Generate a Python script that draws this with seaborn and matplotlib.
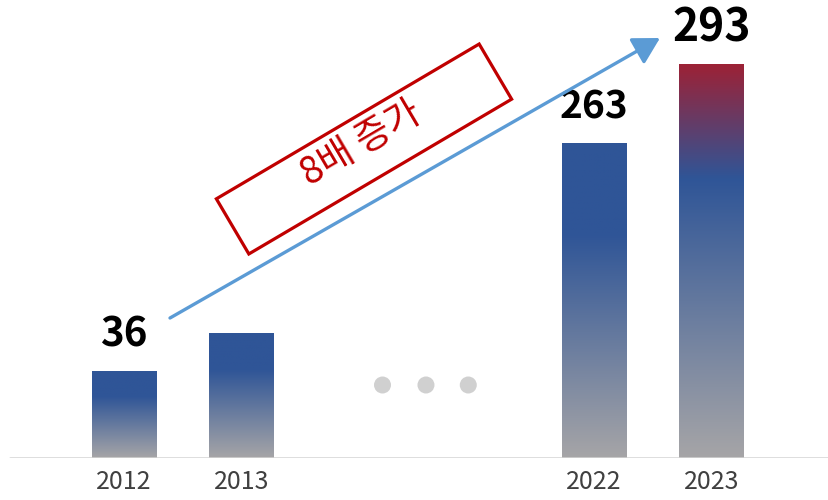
import numpy as np
import pandas as pd
import matplotlib
matplotlib.use("Agg")
import matplotlib.pyplot as plt
import matplotlib.transforms as mtransforms
from matplotlib.patches import Rectangle
from matplotlib.colors import LinearSegmentedColormap
import seaborn as sns

# ---- data ----
years = ["2012", "2013", "2022", "2023"]
bar_heights = [87, 125, 315, 394]          # drawn bar heights (chart is not to scale)
value_labels = ["36", "", "263", "293"]     # printed values
label_sizes = [29, 29, 28, 32]
slot = [0, 1, 4, 5]                          # category slots (gap for the ellipsis)
ellipsis_x = [2.2, 2.57, 2.93]
ellipsis_y = [73, 73, 73]
annotation_text = "8배 증가"

sns.set_theme(style="white")
plt.rcParams["font.family"] = ["Noto Sans CJK KR", "DejaVu Sans"]

W, H = 829, 500
fig = plt.figure(figsize=(W / 100, H / 100), dpi=100)
ax = fig.add_axes([0, 42 / H, 1, 458 / H])

df = pd.DataFrame({"slot": slot, "height": bar_heights, "year": years})
sns.barplot(data=df, x="slot", y="height", native_scale=True, width=0.545,
            color="#2F5597", ax=ax, errorbar=None)

xlim = (-124 / 117.5, (W - 124) / 117.5)
ylim = (0, 458)

blue = "#2F5597"
gray = "#A6A5A7"
red = "#9C2236"
cm_blue = LinearSegmentedColormap.from_list("b", [(0, gray), (0.71, blue), (1, blue)])
cm_red = LinearSegmentedColormap.from_list("r", [(0, gray), (0.71, blue), (1, red)])
grad = np.linspace(0, 1, 256).reshape(-1, 1)

for i, p in enumerate(list(ax.patches)):
    x0, y0 = p.get_x(), p.get_y()
    w, h = p.get_width(), p.get_height()
    p.set_facecolor("none")
    p.set_edgecolor("none")
    cm = cm_red if i == len(ax.patches) - 1 else cm_blue
    im = ax.imshow(grad, extent=[x0, x0 + w, y0, y0 + h], origin="lower",
                   aspect="auto", cmap=cm, zorder=2)
    im.set_clip_path(p)
    if value_labels[i]:
        ax.text(x0 + w / 2, h + 36, value_labels[i], ha="center", va="center",
                fontsize=label_sizes[i], fontweight="bold", color="black")

sns.scatterplot(x=ellipsis_x, y=ellipsis_y, s=150, color="#D0D0D0",
                edgecolor="none", ax=ax, zorder=3)

ax.set_xlim(*xlim)
ax.set_ylim(*ylim)
for s in ax.spines.values():
    s.set_visible(False)
ax.set_yticks([])
ax.set_xticks(slot, years)
ax.tick_params(axis="x", length=0, pad=8, labelsize=18, labelcolor="#404040")
ax.set_xlabel("")
ax.set_ylabel("")
ax.axhline(0, xmin=10 / W, xmax=828 / W, color="#D4D4D4", lw=1.8, zorder=4)

# growth arrow
ax.annotate("", xy=((660 - 124) / 117.5, 458 - 38), xytext=((170 - 124) / 117.5, 458 - 318),
            arrowprops=dict(arrowstyle="-|>,head_length=0.8,head_width=0.45",
                            color="#5B9BD5", lw=2.4, shrinkA=0, shrinkB=0,
                            mutation_scale=20))

# rotated red box with text (display-pixel coordinates)
cx, cy = 364, H - 149
L, Wd, ang = 305, 64, 30.5
tr = mtransforms.Affine2D().rotate_deg_around(cx, cy, ang) + mtransforms.IdentityTransform()
rect = Rectangle((cx - L / 2, cy - Wd / 2), L, Wd, transform=tr, fill=True,
                 facecolor="white", edgecolor="#C00000", lw=2.3, zorder=5)
fig.add_artist(rect)
fig.text(361, H - 144, annotation_text, transform=mtransforms.IdentityTransform(),
         rotation=ang, rotation_mode="anchor", ha="center", va="center",
         fontsize=27, color="#C00000", zorder=6)

fig.savefig("out.png", dpi=100)
